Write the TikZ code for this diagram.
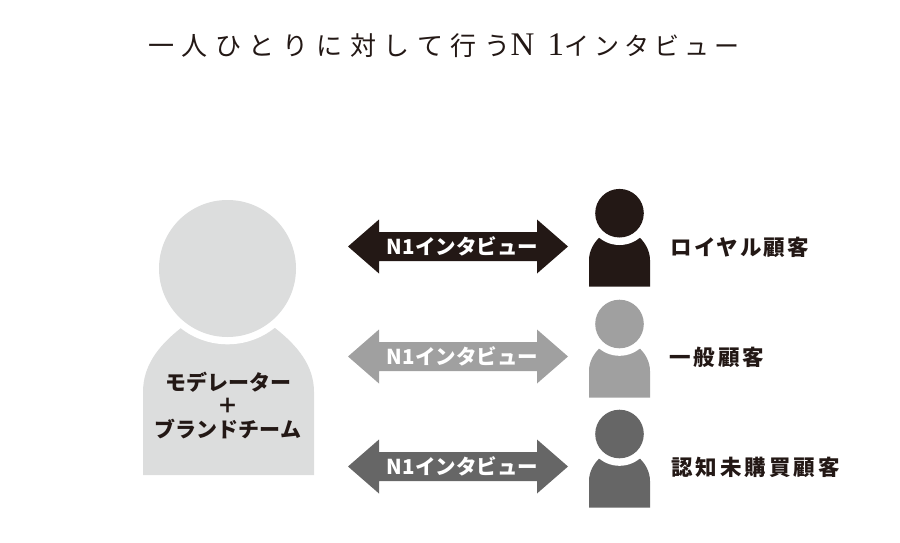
\documentclass[tikz,border=0pt]{standalone}
\usepackage{fontspec}
\setmainfont{Noto Sans CJK JP}
\newfontfamily\titlefont[LetterSpace=30]{Noto Sans CJK JP}
\newfontfamily\titlekana[LetterSpace=20]{Noto Sans CJK JP}
\newfontfamily\titlelatin[LetterSpace=40]{Liberation Serif}
\newfontfamily\labelfont[LetterSpace=9]{Noto Sans CJK JP}
\newfontfamily\labelwide[LetterSpace=14]{Noto Sans CJK JP}
\definecolor{inkblack}{HTML}{231815}
\definecolor{midgray}{HTML}{A0A0A0}
\definecolor{darkgray}{HTML}{666666}
\definecolor{palegray}{HTML}{DCDDDD}
\tikzset{
 titletext/.style={inner sep=0pt,anchor=west,text=inkblack,font=\fontsize{26}{26}\selectfont\titlefont},
 arrowtext/.style={inner sep=0pt,text=white,font=\fontsize{20.5}{20.5}\selectfont\bfseries},
 sidetext/.style={inner sep=0pt,anchor=west,text=inkblack,font=\fontsize{21.5}{21.5}\selectfont\labelfont\bfseries},
 sidewide/.style={inner sep=0pt,anchor=west,text=inkblack,font=\fontsize{21.5}{21.5}\selectfont\labelwide\bfseries},
 bigtext/.style={inner sep=0pt,text=inkblack,font=\fontsize{21}{21}\selectfont\bfseries},
}
\newcommand{\personshape}[2]{%
 \begin{scope}[shift={#1}]
 \fill[#2] (-30.5,73.5) -- (-30.5,47) .. controls (-30.5,38) and (-26,30) .. (-20.3,24.5) -- (20.3,24.5) .. controls (26,30) and (30.5,38) .. (30.5,47) -- (30.5,73.5) -- cycle;
 \fill[white] (0,0) circle (31.8);
 \fill[#2] (0,0) circle (24.3);
 \end{scope}}
\newcommand{\dblarrow}[3]{%
 \begin{scope}[shift={#1}]
 \fill[#2] (-110,0) -- (-79,-27) -- (-79,-14.5) -- (79,-14.5) -- (79,-27) -- (110,0) -- (79,27) -- (79,14.5) -- (-79,14.5) -- (-79,27) -- cycle;
 \node[arrowtext] (#3) at (4.5,0) {N1インタビュー};
 \end{scope}}
\begin{document}
\begin{tikzpicture}[x=1pt,y=-1pt]
\useasboundingbox (0,0) rectangle (900,543);
\node[titletext] (title) at (148,46) {一人ひとりに対して行う{\fontsize{33}{33}\selectfont\titlelatin N1}{\fontsize{25}{25}\selectfont\titlekana インタビュー}};
% large person
\fill[palegray] (143,475) -- (143,392) .. controls (143,366) and (158,346) .. (181,328) -- (275,328) .. controls (298,346) and (314,366) .. (314,392) -- (314,475) -- cycle;
\fill[white] (227.5,268.5) circle (75.8);
\fill[palegray] (227.5,268.5) circle (68.5);
\node[bigtext] (mod) at (228.5,382) {モデレーター};
\node[bigtext] (plus) at (228,406) {＋};
\node[bigtext] (brand) at (228,429) {ブランドチーム};
% arrows
\dblarrow{(458,246.5)}{inkblack}{a1}
\dblarrow{(458,356.5)}{midgray}{a2}
\dblarrow{(458,466.5)}{darkgray}{a3}
% small persons
\personshape{(619.5,213.2)}{inkblack}
\personshape{(619.5,324)}{midgray}
\personshape{(619.5,434)}{darkgray}
\node[sidetext] (l1) at (670.5,247) {ロイヤル顧客};
\node[sidewide] (l2) at (669,357) {一般顧客};
\node[sidewide] (l3) at (671,467) {認知未購買顧客};
\end{tikzpicture}
\end{document}
